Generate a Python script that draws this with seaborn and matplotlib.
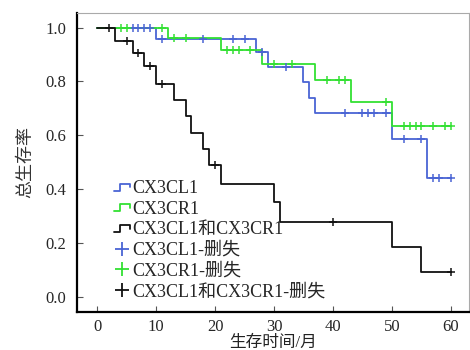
import numpy as np
import pandas as pd
import matplotlib
matplotlib.use("Agg")
import matplotlib.pyplot as plt
import seaborn as sns
from matplotlib.legend_handler import HandlerBase
from matplotlib.lines import Line2D

# --- data (Kaplan-Meier steps) ---
GROUPS = ["CX3CL1", "CX3CR1", "CX3CL1和CX3CR1"]
COLORS = ["#4a64d4", "#33e033", "#111111"]

CL1_TIMES = [0, 10, 27, 29, 35, 36, 37, 50, 56, 60]
CL1_SURV = [1.0, 0.957, 0.908, 0.854, 0.798, 0.740, 0.683, 0.586, 0.440, 0.440]
CL1_CENSOR = [6, 7, 8, 9, 11, 18, 23, 25, 28, 32, 42, 45, 46, 47, 49, 52, 55, 57, 58, 60]

CR1_TIMES = [0, 12, 21, 28, 37, 43, 50, 60]
CR1_SURV = [1.0, 0.960, 0.919, 0.866, 0.804, 0.724, 0.633, 0.633]
CR1_CENSOR = [4, 5, 11, 13, 15, 22, 23, 24, 26, 30, 33, 39, 41, 42, 49,
              52, 53, 54, 55, 57, 59, 60]

BOTH_TIMES = [0, 3, 6, 8, 10, 13, 15, 16, 18, 19, 21, 30, 31, 50, 55, 60]
BOTH_SURV = [1.0, 0.952, 0.905, 0.857, 0.790, 0.732, 0.670, 0.610, 0.548,
             0.489, 0.419, 0.350, 0.279, 0.185, 0.092, 0.092]
BOTH_CENSOR = [2, 5, 7, 9, 11, 20, 40, 60]

XTICKS = [0, 10, 20, 30, 40, 50, 60]
YTICKS = [0.0, 0.2, 0.4, 0.6, 0.8, 1.0]


def surv_at(times, surv, t):
    # value of the step function just after time t
    idx = np.searchsorted(times, t, side="right") - 1
    return surv[idx]


class StepHandler(HandlerBase):
    """Small step glyph for the curve entries of the legend."""

    def create_artists(self, legend, orig_handle, xdescent, ydescent,
                       width, height, fontsize, trans):
        x0, y0 = -xdescent, -ydescent
        xs = [x0, x0 + 0.4 * width, x0 + 0.4 * width, x0 + width, x0 + width]
        ys = [y0 + 0.2 * height, y0 + 0.2 * height, y0 + 0.75 * height,
              y0 + 0.75 * height, y0 + 0.45 * height]
        line = Line2D(xs, ys, color=orig_handle.get_color(), lw=1.3,
                      transform=trans)
        return [line]


sns.set_style("ticks")
plt.rcParams["font.family"] = ["Liberation Serif", "Noto Sans CJK SC", "DejaVu Sans"]

fig = plt.figure(figsize=(4.7, 3.5), dpi=100)
ax = fig.add_axes([0.164, 0.109, 0.833, 0.854])

curves = [(CL1_TIMES, CL1_SURV, CL1_CENSOR),
          (CR1_TIMES, CR1_SURV, CR1_CENSOR),
          (BOTH_TIMES, BOTH_SURV, BOTH_CENSOR)]

line_handles = []
cens_handles = []
for name, color, (times, surv, cens) in zip(GROUPS, COLORS, curves):
    df = pd.DataFrame({"t": times, "s": surv})
    sns.lineplot(data=df, x="t", y="s", ax=ax, color=color, lw=1.3,
                 drawstyle="steps-post", estimator=None, sort=False)
    cdf = pd.DataFrame({"t": cens,
                        "s": [surv_at(times, surv, c) for c in cens]})
    sns.scatterplot(data=cdf, x="t", y="s", ax=ax, marker="+", color=color,
                    s=28, linewidth=1.1, zorder=3)
    line_handles.append(Line2D([], [], color=color, label=name))
    cens_handles.append(Line2D([], [], color=color, marker="+", ls="none",
                               markersize=10, markeredgewidth=1.3,
                               label=name + "-删失"))

ax.set_xlim(-3.4, 63)
ax.set_ylim(-0.057, 1.055)
ax.set_xticks(XTICKS)
ax.set_yticks(YTICKS)
ax.set_yticklabels([f"{v:.1f}" for v in YTICKS])
ax.tick_params(direction="in", length=4, width=0.8, color="#555555",
               labelsize=12, pad=8)
ax.tick_params(axis="x", pad=5)
ax.set_xlabel("生存时间/月", fontsize=12, labelpad=0, color="#222222")
ax.set_ylabel("总生存率", fontsize=13, labelpad=8, color="#333333")

for side in ["left", "bottom"]:
    ax.spines[side].set_linewidth(1.6)
    ax.spines[side].set_color("black")
for side in ["top", "right"]:
    ax.spines[side].set_visible(True)
    ax.spines[side].set_linewidth(0.8)
    ax.spines[side].set_color("#aaaaaa")

handles = line_handles + cens_handles
leg = ax.legend(handles=handles, loc="upper left", bbox_to_anchor=(0.075, 0.465),
                frameon=False, fontsize=13, handlelength=0.9,
                handletextpad=0.15, labelspacing=0.2, borderaxespad=0,
                handler_map={h: StepHandler() for h in line_handles})

fig.savefig("out.png", dpi=100)
